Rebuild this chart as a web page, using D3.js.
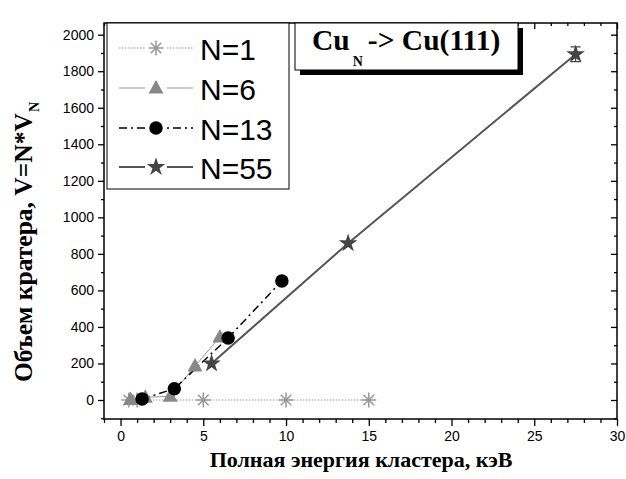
<!DOCTYPE html>
<html>
<head>
<meta charset="utf-8">
<script src="https://cdn.jsdelivr.net/npm/d3@7"></script>
<style>
  body { margin: 0; background: #fff; }
  svg { display: block; }
</style>
</head>
<body>
<script>
// data (energy in keV, crater volume)
const energy1 = [0.5, 1, 5, 10, 15];
const vol1 = [0, 0, 0, 0, 0];
const energy6 = [0.6, 1.5, 3, 4.5, 6];
const vol6 = [2, 15, 20, 185, 345];
const energy13 = [1.3, 3.25, 6.5, 9.75];
const vol13 = [5, 62, 340, 652];
const energy55 = [5.5, 13.75, 27.5];
const vol55 = [200, 858, 1893];
const err55 = [0, 0, 40];
const labels = ["N=1", "N=6", "N=13", "N=55"];
const xTicks = [0, 5, 10, 15, 20, 25, 30];
const yTicks = [0, 200, 400, 600, 800, 1000, 1200, 1400, 1600, 1800, 2000];

const width = 626, height = 479;
const mLeft = 104, mRight = 617, mTop = 23, mBottom = 419;

const x = d3.scaleLinear().domain([-1, 30]).range([mLeft, mRight]);
const y = d3.scaleLinear().domain([-104, 2064]).range([mBottom, mTop]);

const svg = d3.select("body").append("svg")
    .attr("width", width)
    .attr("height", height);

const sans = "'Liberation Sans', Arial, sans-serif";
const serif = "'Liberation Serif', 'Times New Roman', serif";

// frame
svg.append("rect")
    .attr("x", mLeft).attr("y", mTop)
    .attr("width", mRight - mLeft).attr("height", mBottom - mTop)
    .attr("fill", "none").attr("stroke", "#000").attr("stroke-width", 1.5);

// axes: outward ticks bottom/left, inward top/right
const xMinor = d3.range(-1, 31, 1).filter(v => v % 5 !== 0);
const yMinor = d3.range(-100, 2001, 100).filter(v => v % 200 !== 0);

svg.append("g").attr("transform", `translate(0,${mBottom})`)
    .call(d3.axisBottom(x).tickValues(xTicks).tickSize(7).tickPadding(5).tickSizeOuter(0));
svg.append("g").attr("transform", `translate(0,${mBottom})`)
    .call(d3.axisBottom(x).tickValues(xMinor).tickSize(4).tickFormat("").tickSizeOuter(0));
svg.append("g").attr("transform", `translate(0,${mTop})`)
    .call(d3.axisBottom(x).tickValues(xTicks).tickSize(6).tickFormat("").tickSizeOuter(0));
svg.append("g").attr("transform", `translate(0,${mTop})`)
    .call(d3.axisBottom(x).tickValues(xMinor).tickSize(3).tickFormat("").tickSizeOuter(0));

svg.append("g").attr("transform", `translate(${mLeft},0)`)
    .call(d3.axisLeft(y).tickValues(yTicks).tickFormat(d3.format("d")).tickSize(6).tickPadding(4).tickSizeOuter(0));
svg.append("g").attr("transform", `translate(${mLeft},0)`)
    .call(d3.axisLeft(y).tickValues(yMinor).tickSize(3).tickFormat("").tickSizeOuter(0));
svg.append("g").attr("transform", `translate(${mRight},0)`)
    .call(d3.axisLeft(y).tickValues(yTicks).tickSize(6).tickFormat("").tickSizeOuter(0));
svg.append("g").attr("transform", `translate(${mRight},0)`)
    .call(d3.axisLeft(y).tickValues(yMinor).tickSize(3).tickFormat("").tickSizeOuter(0));

svg.selectAll(".domain").remove();
svg.selectAll(".tick line").attr("stroke", "#000").attr("stroke-width", 1.3);
svg.selectAll(".tick text").attr("font-family", sans).attr("font-size", 14).attr("fill", "#000");

// axis titles
svg.append("text")
    .attr("x", 361).attr("y", 467)
    .attr("text-anchor", "middle")
    .attr("font-family", serif).attr("font-weight", "bold").attr("font-size", 22)
    .text("Полная энергия кластера, кэВ");

const yl = svg.append("text")
    .attr("transform", "translate(32,242) rotate(-90)")
    .attr("text-anchor", "middle")
    .attr("font-family", serif).attr("font-weight", "bold").attr("font-size", 25.5);
yl.append("tspan").text("Объем кратера, V=N*V");
yl.append("tspan").attr("font-size", 14).attr("dx", 1).attr("dy", 7).text("N");

// series styles
const series = [
  {xs: energy1, ys: vol1, stroke: "#999", width: 1, dash: "1.5,1.5", sym: "asterisk", color: "#999", size: 15},
  {xs: energy6, ys: vol6, stroke: "#999", width: 1, dash: null, sym: "triangle", color: "#888", size: 15},
  {xs: energy13, ys: vol13, stroke: "#000", width: 1.5, dash: "8,4,2,4", sym: "circle", color: "#000", size: 13.5},
  {xs: energy55, ys: vol55, stroke: "#555", width: 2, dash: null, sym: "star", color: "#444", size: 14}
];

function asterisk(s) {
  const r = s / 2, d = r * 0.7071;
  return `M0,${-r}V${r}M${-r},0H${r}M${-d},${-d}L${d},${d}M${-d},${d}L${d},${-d}`;
}

function drawSymbol(g, sym, color, size, cx, cy) {
  if (sym === "asterisk") {
    g.append("path").attr("transform", `translate(${cx},${cy})`)
        .attr("d", asterisk(size)).attr("stroke", color).attr("stroke-width", 1.5).attr("fill", "none");
  } else if (sym === "circle") {
    g.append("circle").attr("cx", cx).attr("cy", cy).attr("r", size / 2).attr("fill", color);
  } else if (sym === "triangle") {
    const h = size * 0.9, w = size;
    g.append("path").attr("transform", `translate(${cx},${cy})`)
        .attr("d", `M0,${-h * 0.6}L${w / 2},${h * 0.4}L${-w / 2},${h * 0.4}Z`).attr("fill", color);
  } else {
    g.append("path").attr("transform", `translate(${cx},${cy})`)
        .attr("d", d3.symbol(d3.symbolStar, size * size * 0.55)()).attr("fill", color);
  }
}

const plot = svg.append("g");
series.forEach(s => {
  const pts = s.xs.map((v, i) => [x(v), y(s.ys[i])]);
  plot.append("path")
      .attr("d", d3.line()(pts))
      .attr("fill", "none")
      .attr("stroke", s.stroke)
      .attr("stroke-width", s.width)
      .attr("stroke-dasharray", s.dash);
});

// error bar on the last N=55 point
energy55.forEach((v, i) => {
  if (!err55[i]) return;
  const cx = x(v);
  plot.append("path")
      .attr("d", `M${cx},${y(vol55[i] - err55[i])}V${y(vol55[i] + err55[i])}M${cx - 5},${y(vol55[i] + err55[i])}H${cx + 5}M${cx - 5},${y(vol55[i] - err55[i])}H${cx + 5}`)
      .attr("stroke", "#444").attr("stroke-width", 1.2).attr("fill", "none");
});

series.forEach(s => {
  s.xs.forEach((v, i) => drawSymbol(plot, s.sym, s.color, s.size, x(v), y(s.ys[i])));
});

// legend
const lg = svg.append("g");
lg.append("rect")
    .attr("x", 107).attr("y", 23).attr("width", 182).attr("height", 166)
    .attr("fill", "#fff").attr("stroke", "#000").attr("stroke-width", 1);
const legY = [48, 88, 128, 167];
series.forEach((s, i) => {
  lg.append("line")
      .attr("x1", 119).attr("x2", 193).attr("y1", legY[i]).attr("y2", legY[i])
      .attr("stroke", s.stroke).attr("stroke-width", s.width).attr("stroke-dasharray", s.dash);
  lg.append("rect").attr("x", 145).attr("y", legY[i] - 9).attr("width", 22).attr("height", 18).attr("fill", "#fff");
  drawSymbol(lg, s.sym, s.color, s.size, 156, legY[i]);
  lg.append("text")
      .attr("x", 200).attr("y", legY[i] + 12)
      .attr("font-family", sans).attr("font-size", 30)
      .text(labels[i]);
});

// title box with shadow
const tb = svg.append("g");
tb.append("rect").attr("x", 300).attr("y", 28).attr("width", 223).attr("height", 47).attr("fill", "#000");
tb.append("rect").attr("x", 295).attr("y", 23).attr("width", 223).attr("height", 47)
    .attr("fill", "#fff").attr("stroke", "#000").attr("stroke-width", 1);
const tt = tb.append("text")
    .attr("x", 312).attr("y", 50)
    .attr("font-family", serif).attr("font-weight", "bold").attr("font-size", 29.5);
tt.append("tspan").text("Cu");
tt.append("tspan").attr("font-size", 14).attr("dx", 3).attr("dy", 16).text("N");
tt.append("tspan").attr("dx", 5).attr("dy", -16).text("-> Cu(111)");
</script>
</body>
</html>
